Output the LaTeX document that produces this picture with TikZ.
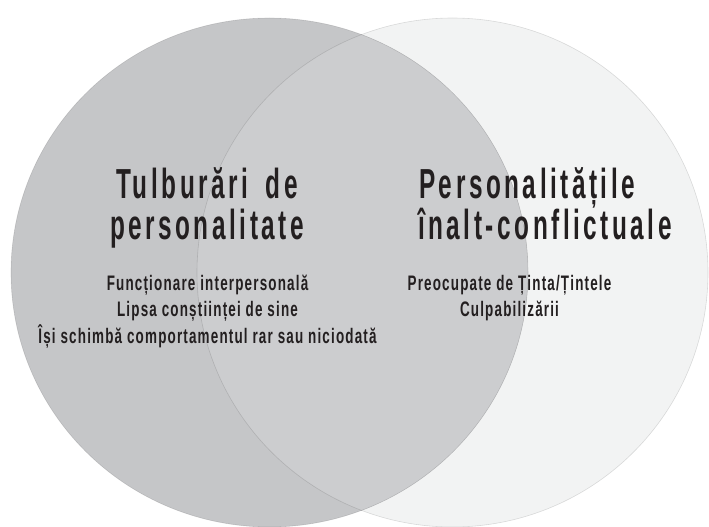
\documentclass[tikz,border=0pt]{standalone}
\usepackage{fontspec}
\setmainfont{Liberation Sans}
\newfontfamily\headfont{Liberation Sans}[FakeStretch=0.58,LetterSpace=8.4,WordSpace=1.7]
\newfontfamily\bodyfont{Liberation Sans}[FakeStretch=0.64,LetterSpace=5.6]
\definecolor{leftgray}{RGB}{197,198,200}
\definecolor{rightgray}{RGB}{242,243,243}
\definecolor{bothgray}{RGB}{204,205,207}
\definecolor{inkblack}{RGB}{35,31,32}
\tikzset{
  headline/.style={anchor=base, inner sep=0pt, text=inkblack, font=\headfont\bfseries\fontsize{42}{44}\selectfont},
  bodyline/.style={anchor=base, inner sep=0pt, text=inkblack, font=\bodyfont\bfseries\fontsize{21}{23}\selectfont},
  rim/.style={draw=black, draw opacity=0.12, line width=0.6pt}
}
\begin{document}
\begin{tikzpicture}[x=1pt,y=-1pt]
  \useasboundingbox (0,0) rectangle (709,527);
  \fill[white] (0,0) rectangle (709,527);
  % the two sets
  \coordinate (L) at (269.5,272.5);
  \coordinate (R) at (452.5,272.5);
  \fill[rightgray] (R) ellipse [x radius=255.5, y radius=254.5];
  \fill[leftgray] (L) ellipse [x radius=258.5, y radius=254.5];
  \begin{scope}
    \clip (L) ellipse [x radius=258.5, y radius=254.5];
    \fill[bothgray] (R) ellipse [x radius=255.5, y radius=254.5];
  \end{scope}
  \draw[rim] (L) ellipse [x radius=258.5, y radius=254.5];
  \draw[rim] (R) ellipse [x radius=255.5, y radius=254.5];
  % left set
  \node[headline] (lefttitleA) at (207,198) {Tulburări de};
  \node[headline] (lefttitleB) at (207,239) {personalitate};
  \node[bodyline] (leftitemA) at (207.5,290) {Funcționare interpersonală};
  \node[bodyline] (leftitemB) at (207.5,316) {Lipsa conștiinței de sine};
  \node[bodyline] (leftitemC) at (207.5,343) {Își schimbă comportamentul rar sau niciodată};
  % right set
  \node[headline, anchor=base west] (righttitleA) at (419,198) {Personalitățile};
  \node[headline, anchor=base west] (righttitleB) at (418,239) {înalt-conflictuale};
  \node[bodyline] (rightitemA) at (509.5,290) {Preocupate de Ținta/Țintele};
  \node[bodyline] (rightitemB) at (509.5,316) {Culpabilizării};
\end{tikzpicture}
\end{document}
